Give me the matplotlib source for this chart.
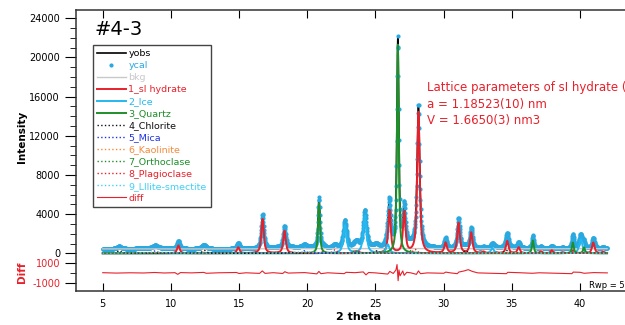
import numpy as np
import matplotlib.pyplot as plt
from matplotlib.ticker import MultipleLocator

# scan range (2 theta, deg)
two_theta = np.arange(5.0, 42.0, 0.02)

# background level
bkg_pos = [5, 10, 15, 20, 25, 30, 35, 42]
bkg_int = [450, 440, 450, 470, 490, 470, 460, 470]

# peak tables: position (deg) / height (counts)
hyd_pos = [10.55, 14.94, 16.72, 18.33, 21.19, 23.72, 26.03, 27.11, 28.15, 30.14, 31.09,
           32.02, 32.92, 33.8, 34.66, 35.5, 37.13, 37.93, 38.72, 39.48, 40.97, 41.7]
hyd_int = [800, 600, 3500, 2300, 150, 200, 4400, 4200, 14500, 1050, 3100,
           2100, 150, 100, 1250, 600, 200, 300, 100, 300, 1100, 150]
ice_pos = [22.76, 24.22, 25.9, 33.57, 40.05]
ice_int = [2850, 3850, 900, 500, 1450]
qtz_pos = [20.86, 26.64, 36.54, 39.47, 40.29]
qtz_int = [5100, 21300, 1300, 1100, 600]
chl_pos = [6.2, 12.45, 18.8, 25.1, 31.6, 34.6]
chl_int = [250, 300, 100, 250, 250, 300]
mic_pos = [8.85, 17.75, 19.8, 29.2]
mic_int = [250, 100, 250, 80]
kao_pos = [12.36, 24.87]
kao_int = [150, 150]
ort_pos = [23.5, 27.5]
ort_int = [300, 300]
pla_pos = [22.03, 23.6, 27.9]
pla_int = [350, 300, 400]
ill_pos = [8.9, 19.8, 35.0]
ill_int = [120, 150, 100]

# difference curve (yobs - ycal)
diff_pos = [5, 6, 7, 8, 8.8, 9.5, 10.3, 10.5, 10.7, 11.5, 12.4, 12.6, 13.5, 14.8, 15.0,
            15.5, 16.5, 16.7, 16.9, 17.5, 18.2, 18.35, 18.6, 19.8, 20.7, 20.85, 21.0,
            21.5, 22.7, 22.85, 23.5, 24.1, 24.3, 24.5, 25.0, 25.9, 26.05, 26.3, 26.5,
            26.58, 26.66, 26.72, 26.8, 27.0, 27.1, 27.3, 27.6, 28.0, 28.15, 28.3, 28.8,
            30.0, 30.15, 30.5, 31.0, 31.1, 31.5, 31.8, 32.1, 32.5, 33.5, 34.6, 34.7,
            35.5, 36.5, 37.0, 39.4, 39.5, 40.0, 40.3, 41.0, 42.0]
diff_int = [20, -20, 10, -10, 40, -10, 20, -150, 30, 0, 50, -40, 10, 40, -60,
            10, -50, 200, -50, 20, -60, 120, -20, 30, -100, 150, -80,
            10, -80, 60, 20, 100, -200, 40, 0, -120, 150, -60, 300,
            850, -800, 300, -300, 200, -250, 60, 0, -150, 200, -80, 0,
            -40, 80, 0, -80, 80, 200, 330, 150, 0, -40, -80, 60,
            20, -40, 10, -80, 80, 60, -40, 30, 0]
diff_offset = -2000


def profile(pos, hts, fwhm, eta=0.75):
    y = np.zeros_like(two_theta)
    for c, h in zip(pos, hts):
        d = (two_theta - c) / (fwhm / 2)
        y += h * (eta / (1 + d ** 2) + (1 - eta) * np.exp(-np.log(2) * d ** 2))
    return y


phases = [
    ("1_sI hydrate", profile(hyd_pos, hyd_int, 0.22), "#e8202a", "-", 1.4),
    ("2_Ice", profile(ice_pos, ice_int, 0.28), "#22b8f0", "-", 1.4),
    ("3_Quartz", profile(qtz_pos, qtz_int, 0.16), "#1f8f2a", "-", 1.4),
    ("4_Chlorite", profile(chl_pos, chl_int, 0.35), "#111111", ":", 1.0),
    ("5_Mica", profile(mic_pos, mic_int, 0.35), "#2233dd", ":", 1.0),
    ("6_Kaolinite", profile(kao_pos, kao_int, 0.35), "#f58a3c", ":", 1.0),
    ("7_Orthoclase", profile(ort_pos, ort_int, 0.35), "#1f8f2a", ":", 1.0),
    ("8_Plagioclase", profile(pla_pos, pla_int, 0.35), "#e8202a", ":", 1.0),
    ("9_Lllite-smectite", profile(ill_pos, ill_int, 2.0), "#40d0f5", ":", 1.0),
]

bkg = np.interp(two_theta, bkg_pos, bkg_int)
ycal = bkg + sum(p[1] for p in phases)
yobs = ycal

fig = plt.figure(figsize=(6.25, 3.25), dpi=100)
ax = fig.add_axes([0.1216, 0.1046, 0.9084, 0.8646])

ax.plot(two_theta, yobs, color="black", lw=1.2, label="yobs")
ax.plot(two_theta, ycal, "o", color="#2aa9e0", ms=3.0, mew=0, label="ycal")
ax.plot(two_theta, bkg, color="#c8c8c8", lw=1.0, label="bkg")
for name, y, col, ls, lw in phases:
    ax.plot(two_theta, y, color=col, ls=ls, lw=lw, label=name)
ax.plot(diff_pos, np.array(diff_int) + diff_offset, color="#e8202a", lw=0.8, label="diff")

ax.set_xlim(3.04, 44.67)
ax.set_ylim(-3850, 24840)
ax.set_xticks([5, 10, 15, 20, 25, 30, 35, 40])
yt = [-3000, -1000, 0, 4000, 8000, 12000, 16000, 20000, 24000]
ax.set_yticks(yt)
ax.set_yticklabels(["-1000", "1000"] + [str(v) for v in yt[2:]])
for lab in ax.get_yticklabels()[:2]:
    lab.set_color("#e8202a")
ax.yaxis.set_minor_locator(MultipleLocator(1000))
ax.tick_params(axis="y", which="major", direction="out", length=8, labelsize=7)
ax.tick_params(axis="y", which="minor", direction="out", length=4)
ax.tick_params(axis="x", direction="in", top=True, length=6, labelsize=7, pad=6)
for s in ax.spines.values():
    s.set_color("#333333")
    s.set_linewidth(1.1)

leg = ax.legend(loc="upper left", bbox_to_anchor=(0.030, 0.875), borderaxespad=0,
                fontsize=6.8, handlelength=3.0, handletextpad=0.3, labelspacing=0.32,
                borderpad=0.45, numpoints=1, fancybox=False, framealpha=1,
                edgecolor="#444444", labelcolor="linecolor")
leg.get_frame().set_linewidth(1.0)

fig.text(0.152, 0.908, "#4-3", fontsize=14, va="center")
fig.text(0.035, 0.58, "Intensity", rotation=90, fontsize=7.5, fontweight="bold",
         va="center", ha="center")
fig.text(0.035, 0.163, "Diff", rotation=90, fontsize=7.5, fontweight="bold",
         color="#e8202a", va="center", ha="center")
fig.text(0.573, 0.025, "2 theta", fontsize=8, fontweight="bold", ha="center", va="center")
fig.text(0.683, 0.75, "Lattice parameters of sI hydrate (83 K)\na = 1.18523(10) nm\nV = 1.6650(3) nm3",
         fontsize=8.5, color="#e8202a", va="top", linespacing=1.35)
fig.text(0.942, 0.123, "Rwp = 5.31%", fontsize=6, va="center")

fig.savefig("out.png", dpi=100)
